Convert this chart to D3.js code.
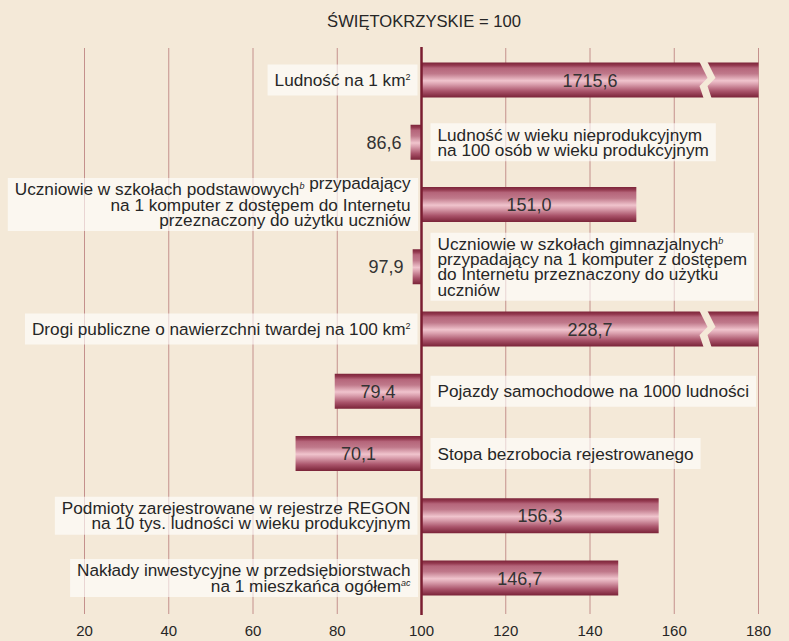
<!DOCTYPE html>
<html>
  <head>
    <script src="https://cdnjs.cloudflare.com/ajax/libs/d3/7.8.5/d3.min.js"></script>
    <style type="text/css">
      body {
        margin: 0;
        padding: 0;
        background: #f4e9d8;
      }
      svg text {
        font-family: "Liberation Sans", Arial, sans-serif;
        fill: #262626;
      }
    </style>
  </head>
  <body>
    <div id="chart"></div>
    <script type="text/javascript">
    // category labels, one entry per line; {..} marks a superscript
    const labels = [
      ["Ludność na 1 km{2}"],
      ["Ludność w wieku nieprodukcyjnym", "na 100 osób w wieku produkcyjnym"],
      ["Uczniowie w szkołach podstawowych{b} przypadający", "na 1 komputer z dostępem do Internetu", "przeznaczony do użytku uczniów"],
      ["Uczniowie w szkołach gimnazjalnych{b}", "przypadający na 1 komputer z dostępem", "do Internetu przeznaczony do użytku", "uczniów"],
      ["Drogi publiczne o nawierzchni twardej na 100 km{2}"],
      ["Pojazdy samochodowe na 1000 ludności"],
      ["Stopa bezrobocia rejestrowanego"],
      ["Podmioty zarejestrowane w rejestrze REGON", "na 10 tys. ludności w wieku produkcyjnym"],
      ["Nakłady inwestycyjne w przedsiębiorstwach", "na 1 mieszkańca ogółem{ac}"]
    ];
    const values = [1715.6, 86.6, 151.0, 97.9, 228.7, 79.4, 70.1, 156.3, 146.7];
    // bar lengths as drawn in the picture (the 86,6 bar is drawn short in the source)
    const barValues = [1715.6, 97.4, 151.0, 97.9, 228.7, 79.4, 70.1, 156.3, 146.7];
    const ticks = [20, 40, 60, 80, 100, 120, 140, 160, 180];
    const title = "ŚWIĘTOKRZYSKIE = 100";
    const base = 100;
    const axisMax = 180;
    const breakAt = 166;

    const width = 789, height = 641;
    const svg = d3.select('#chart')
      .append('svg')
      .attr('width', width)
      .attr('height', height);

    const x = d3.scaleLinear().domain([20, 180]).range([84.5, 758.5]);
    const y = d3.scalePoint().domain(d3.range(labels.length)).range([80, 578]);
    const barH = 35;
    const lineH = 15.3;
    const fmt = v => d3.format('.1f')(v).replace('.', ',');

    const defs = svg.append('defs');
    const grad = defs.append('linearGradient')
      .attr('id', 'bar-grad')
      .attr('x1', 0).attr('x2', 0).attr('y1', 0).attr('y2', 1);
    [[0, '#7c2439'], [0.08, '#93394f'], [0.16, '#b5657a'], [0.32, '#c0798b'],
     [0.52, '#f0c4cd'], [0.62, '#dba1af'], [0.82, '#a9536a'], [1, '#7a2338']]
      .forEach(s => grad.append('stop').attr('offset', s[0]).attr('stop-color', s[1]));

    // title
    svg.append('text')
      .attr('x', 424)
      .attr('y', 27)
      .attr('text-anchor', 'middle')
      .style('font-size', '16.6px')
      .text(title);

    // grid
    svg.append('g')
      .selectAll('line')
      .data(ticks)
      .enter()
      .append('line')
      .attr('x1', d => x(d)).attr('x2', d => x(d))
      .attr('y1', 48).attr('y2', 614)
      .attr('stroke', '#c4908c')
      .attr('stroke-width', 1);

    svg.append('g')
      .selectAll('text')
      .data(ticks)
      .enter()
      .append('text')
      .attr('x', d => x(d))
      .attr('y', 636)
      .attr('text-anchor', 'middle')
      .style('font-size', '15px')
      .text(d => d);

    const rows = svg.append('g')
      .selectAll('g')
      .data(labels.map((l, i) => ({ lines: l, value: values[i], bar: barValues[i], i })))
      .enter()
      .append('g');

    // label boxes first, text later measured
    rows.each(function (d) {
      const g = d3.select(this);
      const cy = y(d.i);
      const left = d.value >= base;
      const box = g.append('rect')
        .attr('fill', '#ffffff')
        .attr('fill-opacity', 0.62);
      const tg = g.append('g');
      const n = d.lines.length;
      d.lines.forEach((line, k) => {
        const t = tg.append('text')
          .attr('x', left ? x(base) - 11 : x(base) + 16)
          .attr('y', cy + (k - (n - 1) / 2) * lineH + 6)
          .attr('text-anchor', left ? 'end' : 'start')
          .style('font-size', '17.2px');
        line.split(/(\{[^}]+\})/).filter(s => s).forEach((part, j, arr) => {
          if (part[0] === '{') {
            const sup = part.slice(1, -1);
            t.append('tspan')
              .attr('dy', -6)
              .style('font-size', '9px')
              .style('font-style', /[a-z]/.test(sup) ? 'italic' : 'normal')
              .text(sup);
            if (j < arr.length - 1) t.append('tspan').attr('dy', 6).text('');
          } else {
            t.append('tspan').text(part);
          }
        });
      });
      const bb = tg.node().getBBox();
      const bh = Math.max(31, n * 15 + 8);
      box.attr('x', bb.x - 7)
        .attr('width', bb.width + 14)
        .attr('y', cy - bh / 2)
        .attr('height', bh);
    });

    // bars
    rows.append('rect')
      .attr('x', d => x(Math.min(d.bar, base)))
      .attr('width', d => Math.abs(x(Math.min(d.bar, axisMax)) - x(base)))
      .attr('y', d => y(d.i) - barH / 2)
      .attr('height', barH)
      .attr('fill', 'url(#bar-grad)');

    // break marks for bars running off the axis
    rows.filter(d => d.bar > axisMax)
      .append('path')
      .attr('fill', '#f4e9d8')
      .attr('d', d => {
        const xb = x(breakAt), y0 = y(d.i) - barH / 2 - 0.5, y1 = y(d.i) + barH / 2 + 0.5, cy = y(d.i);
        const pts = [[xb, y0], [xb + 8, cy - 2], [xb, cy + 6], [xb + 4, y1]];
        const back = pts.slice().reverse().map(p => [p[0] + 8, p[1]]);
        return d3.line()(pts.concat(back)) + 'Z';
      });

    // value labels
    rows.append('text')
      .attr('x', d => {
        const x0 = x(Math.min(d.bar, base)), x1 = x(Math.min(Math.max(d.bar, base), axisMax));
        return x1 - x0 > 40 ? (x0 + x1) / 2 : x0 - 9;
      })
      .attr('y', d => y(d.i) + 6.5)
      .attr('text-anchor', d => {
        const w = Math.abs(x(Math.min(d.bar, axisMax)) - x(base));
        return w > 40 ? 'middle' : 'end';
      })
      .style('font-size', '18px')
      .style('fill', '#333')
      .text(d => fmt(d.value));

    // base line at 100
    svg.append('line')
      .attr('x1', x(base)).attr('x2', x(base))
      .attr('y1', 47).attr('y2', 615)
      .attr('stroke', '#7a1d31')
      .attr('stroke-width', 2.5);
    </script>
  </body>
</html>
